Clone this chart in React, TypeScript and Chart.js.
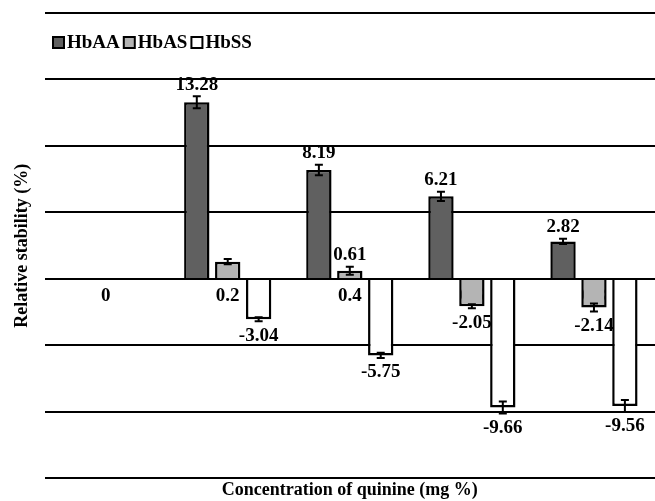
import { useEffect, useRef } from "react";
import { Chart, registerables } from "chart.js";

Chart.register(...registerables);

const categories = ["0", "0.2", "0.4", "0.6", "0.8"];
const seriesNames = ["HbAA", "HbAS", "HbSS"];
const hbAA = [0, 13.28, 8.19, 6.21, 2.82];
const hbAS = [0, 1.3, 0.61, -2.05, -2.14];
const hbSS = [0, -3.04, -5.75, -9.66, -9.56];
const hbAAErr = [0, 0.45, 0.4, 0.35, 0.2];
const hbASErr = [0, 0.2, 0.3, 0.15, 0.3];
const hbSSErr = [0, 0.15, 0.2, 0.45, 0.45];
const hbAALabelShown = [false, true, true, true, true];
const hbASLabelShown = [false, false, true, true, true];
const hbSSLabelShown = [false, true, true, true, true];
const yMin = -15;
const yMax = 20;
const yStep = 5;

const FONT = "'Liberation Serif', 'Times New Roman', serif";

const overlayPlugin = {
  id: "overlay",
  afterDatasetsDraw(chart: any) {
    const ctx = chart.ctx;
    const y = chart.scales.y;
    ctx.save();
    chart.data.datasets.forEach((ds: any, di: number) => {
      const meta = chart.getDatasetMeta(di);
      meta.data.forEach((bar: any, j: number) => {
        const v = ds.data[j];
        const e = ds.errors[j];
        if (v === 0) return;
        const x = bar.x;
        const yTop = y.getPixelForValue(v + e);
        const yBot = y.getPixelForValue(v - e);
        ctx.strokeStyle = "#000";
        ctx.lineWidth = 2;
        ctx.beginPath();
        ctx.moveTo(x, yTop);
        ctx.lineTo(x, yBot);
        ctx.moveTo(x - 4, yTop);
        ctx.lineTo(x + 4, yTop);
        ctx.moveTo(x - 4, yBot);
        ctx.lineTo(x + 4, yBot);
        ctx.stroke();
        if (!ds.labelShown[j]) return;
        ctx.fillStyle = "#000";
        ctx.font = `bold 19px ${FONT}`;
        ctx.textAlign = "center";
        if (v > 0) {
          ctx.textBaseline = "bottom";
          ctx.fillText(String(v), x, yTop - 2);
        } else {
          ctx.textBaseline = "top";
          ctx.fillText(String(v), x, yBot + 5);
        }
      });
    });
    ctx.restore();
  },
  afterDraw(chart: any) {
    const ctx = chart.ctx;
    ctx.save();
    ctx.font = `bold 19px ${FONT}`;
    ctx.textBaseline = "middle";
    ctx.textAlign = "left";
    let x = 53;
    const cy = 42;
    chart.data.datasets.forEach((ds: any) => {
      ctx.fillStyle = ds.backgroundColor;
      ctx.fillRect(x, cy - 5, 11, 11);
      ctx.strokeStyle = "#000";
      ctx.lineWidth = 2;
      ctx.strokeRect(x, cy - 5, 11, 11);
      ctx.fillStyle = "#000";
      ctx.fillText(ds.label, x + 14, cy + 1);
      x += 14 + ctx.measureText(ds.label).width + 4;
    });
    ctx.restore();
  },
};

export default function App() {
  const ref = useRef<HTMLCanvasElement>(null);
  useEffect(() => {
    if (!ref.current) return;
    const chart = new Chart(ref.current, {
      type: "bar",
      data: {
        labels: categories,
        datasets: [
          {
            label: seriesNames[0],
            data: hbAA,
            errors: hbAAErr,
            labelShown: hbAALabelShown,
            backgroundColor: "#606060",
            borderColor: "#000",
            borderWidth: 2.5,
          } as any,
          {
            label: seriesNames[1],
            data: hbAS,
            errors: hbASErr,
            labelShown: hbASLabelShown,
            backgroundColor: "#b4b4b4",
            borderColor: "#000",
            borderWidth: 2.5,
          } as any,
          {
            label: seriesNames[2],
            data: hbSS,
            errors: hbSSErr,
            labelShown: hbSSLabelShown,
            backgroundColor: "#ffffff",
            borderColor: "#000",
            borderWidth: 2.5,
          } as any,
        ],
      },
      options: {
        animation: false,
        responsive: true,
        maintainAspectRatio: false,
        datasets: {
          bar: { categoryPercentage: 0.76, barPercentage: 0.82 },
        },
        layout: { padding: { top: 13, left: 6, right: 0, bottom: 0 } },
        plugins: {
          legend: { display: false },
          tooltip: { enabled: false },
          title: {
            display: true,
            position: "bottom",
            fullSize: false,
            text: "Concentration of quinine (mg %)",
            color: "#000",
            font: { family: FONT, size: 18, weight: "bold" as any, lineHeight: 1.2 },
            padding: { top: 1, bottom: 0 },
          },
        },
        scales: {
          x: {
            position: { y: 0 } as any,
            grid: { display: false, drawTicks: false },
            border: { display: false },
            ticks: {
              color: "#000",
              padding: 6,
              font: { family: FONT, size: 19, weight: "bold" as any },
            },
          },
          y: {
            min: yMin,
            max: yMax,
            ticks: { stepSize: yStep, display: false },
            grid: { color: "#000", lineWidth: 2, drawTicks: false },
            border: { display: false },
            title: {
              display: true,
              text: "Relative stability (%)",
              color: "#000",
              font: { family: FONT, size: 18, weight: "bold" as any, lineHeight: 1.2 },
              padding: { top: 6, bottom: 11 },
            },
          },
        },
      },
      plugins: [overlayPlugin],
    });
    return () => chart.destroy();
  }, []);
  return (
    <div
      style={{
        position: "fixed",
        left: 0,
        top: 0,
        width: 655,
        height: 501,
        background: "#fff",
      }}
    >
      <canvas ref={ref} />
    </div>
  );
}
